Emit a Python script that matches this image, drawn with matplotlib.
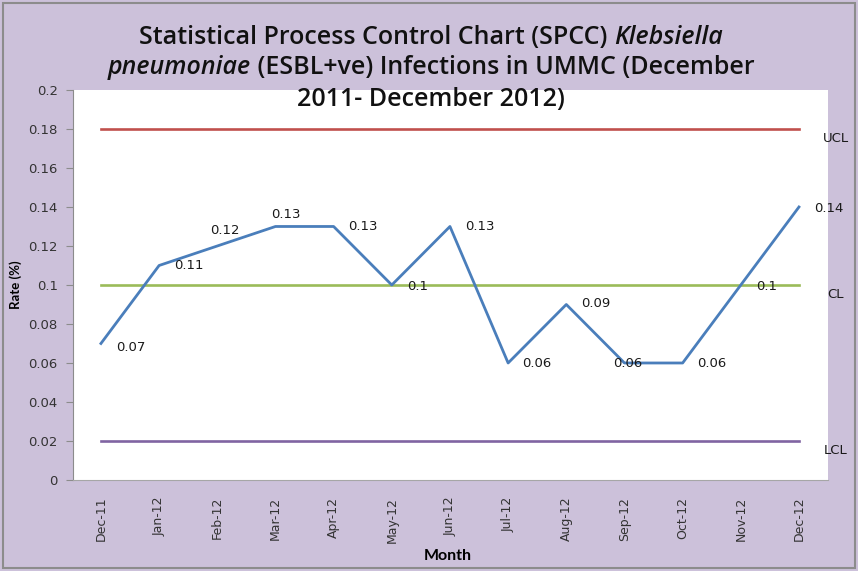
import matplotlib.pyplot as plt
from matplotlib.patches import Rectangle

months = ['Dec-11', 'Jan-12', 'Feb-12', 'Mar-12', 'Apr-12', 'May-12', 'Jun-12',
          'Jul-12', 'Aug-12', 'Sep-12', 'Oct-12', 'Nov-12', 'Dec-12']
rate = [0.07, 0.11, 0.12, 0.13, 0.13, 0.1, 0.13, 0.06, 0.09, 0.06, 0.06, 0.1, 0.14]
rate_labels = ['0.07', '0.11', '0.12', '0.13', '0.13', '0.1', '0.13',
               '0.06', '0.09', '0.06', '0.06', '0.1', '0.14']
ucl = 0.18
cl = 0.1
lcl = 0.02
y_ticks = [0, 0.02, 0.04, 0.06, 0.08, 0.1, 0.12, 0.14, 0.16, 0.18, 0.2]
y_tick_labels = ['0', '0.02', '0.04', '0.06', '0.08', '0.1', '0.12', '0.14',
                 '0.16', '0.18', '0.2']

BG = '#CCC1DA'
fig = plt.figure(figsize=(8.58, 5.71), dpi=100)
fig.patch.set_facecolor(BG)
fig.patches.append(Rectangle((0.004, 0.006), 0.992, 0.988, transform=fig.transFigure,
                             fill=False, edgecolor='#8C8C8C', linewidth=1.5))

ax = fig.add_axes([0.0851, 0.1594, 0.880, 0.6830])
ax.set_facecolor('white')
x = list(range(len(months)))

ax.plot(x, [ucl] * len(x), color='#C0504D', lw=1.9)
ax.plot(x, [cl] * len(x), color='#9BBB59', lw=1.9)
ax.plot(x, [lcl] * len(x), color='#8064A2', lw=1.9)
ax.plot(x, rate, color='#4A7EBB', lw=2.0)

# per-point label placement (pixels), as in the source chart
offsets = [(15, -4, 'left'), (15, 0, 'left'), (8, 15, 'center'), (10, 12, 'center'),
           (15, 0, 'left'), (15, -2, 'left'), (15, 0, 'left'), (14, -1, 'left'),
           (15, 1, 'left'), (3, -1, 'center'), (14, -1, 'left'), (15, -2, 'left'),
           (15, -2, 'left')]
for xi, yi, lab, (dx, dy, ha) in zip(x, rate, rate_labels, offsets):
    ax.annotate(lab, (xi, yi), xytext=(dx, dy), textcoords='offset pixels',
                ha=ha, va='center', fontsize=9.5, color='#1A1A1A')

for val, name in [(ucl, 'UCL'), (cl, 'CL'), (lcl, 'LCL')]:
    ax.annotate(name, (x[-1], val), xytext=(37, -10), textcoords='offset pixels',
                ha='center', va='center', fontsize=9.5, color='#1A1A1A',
                annotation_clip=False)

ax.set_xlim(-0.48, 12.5)
ax.set_ylim(0, 0.2)
ax.set_yticks(y_ticks)
ax.set_yticklabels(y_tick_labels, fontsize=9.5, color='#333333')
ax.set_xticks(x)
ax.set_xticklabels(months, rotation=90, fontsize=9, color='#333333')
ax.tick_params(axis='y', direction='out', length=5, color='#8C8C8C', pad=6)
ax.tick_params(axis='x', length=0, pad=12)
for s in ['top', 'right']:
    ax.spines[s].set_visible(False)
ax.spines['left'].set_color('#8C8C8C')
ax.spines['bottom'].set_color('#A6A6A6')

ax.set_ylabel('Rate (%)', fontsize=9.5, fontweight='bold', family='Lato', labelpad=2)
ax.yaxis.set_label_coords(-0.068, 0.5)
ax.set_xlabel('Month', fontsize=11.5, fontweight='bold', family='Lato', labelpad=2)
ax.xaxis.set_label_coords(0.496, -0.176)

# title with italic species name, three centred lines
title_lines = [
    [('Statistical Process Control Chart (SPCC) ', 'normal'), ('Klebsiella', 'italic')],
    [('pneumoniae', 'italic'), (' (ESBL+ve) Infections in UMMC (December', 'normal')],
    [('2011- December 2012)', 'normal')],
]
title_y = [1 - 37 / 571, 1 - 67 / 571, 1 - 99 / 571]
renderer = fig.canvas.get_renderer()
for parts, ty in zip(title_lines, title_y):
    texts = []
    for s, style in parts:
        t = fig.text(0, ty, s, fontsize=18, fontweight='semibold', style=style,
                     family='Open Sans', va='center', ha='left', color='#111111')
        texts.append(t)
    widths = [t.get_window_extent(renderer).width for t in texts]
    total = sum(widths)
    left = 431 - total / 2
    for t, w in zip(texts, widths):
        t.set_x(left / 858)
        left += w

fig.savefig('out.png', dpi=100, facecolor=BG)
